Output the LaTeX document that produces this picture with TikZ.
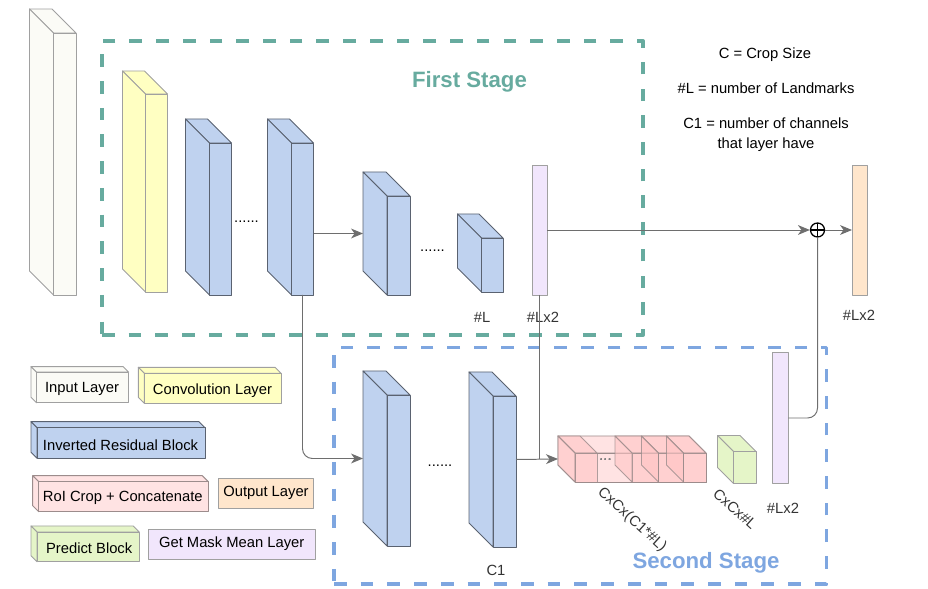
\documentclass[tikz,border=0pt]{standalone}
\usepackage{fontspec}
\setmainfont{Liberation Sans}
\usetikzlibrary{calc, arrows.meta, positioning, fit}

\definecolor{stageone}{HTML}{67AB9F}
\definecolor{stagetwo}{HTML}{7EA6E0}
\definecolor{edgegray}{HTML}{A0A0A0}
\definecolor{darkedge}{HTML}{5A6270}
\definecolor{conngray}{HTML}{6E6E6E}
\definecolor{labelgray}{HTML}{333333}
\definecolor{inputfill}{HTML}{FBFBF6}
\definecolor{convfill}{HTML}{FFFFC2}
\definecolor{irbfill}{HTML}{BFD2EF}
\definecolor{maskfill}{HTML}{F1E6FC}
\definecolor{outfill}{HTML}{FFE6CC}
\definecolor{cropfill}{HTML}{FFE3E3}
\definecolor{slicefill}{HTML}{FFC4C4}
\definecolor{cropedge}{HTML}{9C8C8C}
\definecolor{predfill}{HTML}{E5F5C8}

\newcommand{\cubelayer}[7]{%
  \path[#7] ({#2},{#3}) -- ({#2+#4-#6},{#3}) -- ({#2+#4},{#3+#6}) -- ({#2+#6},{#3+#6}) -- cycle;
  \path[#7] ({#2},{#3}) -- ({#2+#6},{#3+#6}) -- ({#2+#6},{#3+#5}) -- ({#2},{#3+#5-#6}) -- cycle;
  \path[#7] ({#2+#6},{#3+#6}) rectangle ({#2+#4},{#3+#5});
  \node[fit={({#2},{#3}) ({#2+#4},{#3+#5})}, inner sep=0pt, outer sep=0pt] (#1) {};
}

\begin{document}
\begin{tikzpicture}[
        x=0.025cm, y=-0.025cm, line join=round,
        font=\fontsize{10.5}{14.2}\selectfont,
        inputface/.style={draw=edgegray, fill=inputfill, line width=0.7pt},
        convface/.style={draw=edgegray, fill=convfill, line width=0.7pt},
        irbface/.style={draw=darkedge, fill=irbfill, line width=0.7pt},
        maskface/.style={draw=edgegray, fill=maskfill, line width=0.7pt},
        outface/.style={draw=edgegray, fill=outfill, line width=0.7pt},
        cropface/.style={draw=cropedge, fill=cropfill, line width=0.7pt},
        sliceface/.style={draw=cropedge, draw opacity=0.8, fill=slicefill, fill opacity=0.6, line width=0.7pt},
        predface/.style={draw=edgegray, fill=predfill, line width=0.7pt},
        stagebox/.style={line width=2.8pt, dash pattern=on 9pt off 10pt, inner sep=0pt},
        stage/.style={font=\fontsize{15.8}{19}\selectfont\bfseries},
        conn/.style={draw=conngray, line width=0.7pt},
        arrow/.style={conn, -{Stealth[length=8.5pt, width=7pt, inset=2.5pt]}},
        lbl/.style={text=labelgray, inner sep=1pt},
        bar/.style={inner sep=0pt, outer sep=0pt}
    ]
        \useasboundingbox (0,0) rectangle (928,589);

        \node[stagebox, draw=stageone, fit={(102,41) (643,335)}] (first) {};
        \node[stagebox, draw=stagetwo, fit={(334,347.5) (826.5,584)}] (second) {};
        \node[stage, text=stageone] (first-t) at (469.5,81.5) {First Stage};
        \node[stage, text=stagetwo] (second-t) at (706,563) {Second Stage};

        \cubelayer{inp}{29.5}{9}{46.5}{286}{24}{inputface}
        \cubelayer{conv}{122.5}{71}{45}{221}{23}{convface}
        \cubelayer{b1}{185.5}{119}{46}{176}{24}{irbface}
        \cubelayer{b2}{267.5}{119}{46}{176}{24}{irbface}
        \cubelayer{b3}{363}{172}{47}{123}{24}{irbface}
        \cubelayer{b4}{457.5}{214}{45.5}{78}{24}{irbface}
        \node[maskface, bar, fit={(532,165) (547,295)}] (p1) {};
        \node[outface, bar, fit={(852,165) (867,295)}] (out) {};

        \node[anchor=base] (dots1) at (246.5,223) {......};
        \node[anchor=base] (dots2) at (432.5,252) {......};
        \node[lbl] (b4-t) at (482,317) {\#L};
        \node[lbl] (p1-t) at (543,317) {\#Lx2};
        \node[lbl] (out-t) at (859,315) {\#Lx2};

        \node (note1) at (765,55) {C = Crop Size};
        \node (note2) at (766,88) {\#L = number of Landmarks};
        \node[align=center] (note3) at (766,135) {C1 = number of channels\\that layer have};

        \cubelayer{s1}{363}{371}{47}{175}{24}{irbface}
        \cubelayer{s2}{469}{372}{47}{175}{24}{irbface}
        \node[anchor=base] (dots3) at (440,466) {......};
        \node[lbl] (s2-t) at (496,570) {C1};

        \cubelayer{crop}{558}{436}{148}{46}{17}{cropface}
        \foreach \xs/\ws [count=\i] in {558/39, 615/43, 641.5/41.5, 666.5/39.5}
            \cubelayer{crop\i}{\xs}{436}{\ws}{46}{17}{sliceface}
        \node[anchor=base, text=gray, inner sep=0pt] (dots4) at (605.5,461) {...};
        \cubelayer{pred}{717.5}{435.5}{38.5}{48}{16}{predface}
        \node[maskface, bar, fit={(772.7,352.7) (788.3,483.3)}] (p2) {};
        \node[lbl, rotate=-42] (crop-t) at (632,520) {CxCx(C1*\#L)};
        \node[lbl, rotate=-42] (pred-t) at (735,509) {CxCx\#L};
        \node[lbl] (p2-t) at (783,508) {\#Lx2};

        \node[draw, circle, minimum size=0.35cm, inner sep=0pt, line width=0.9pt,
            path picture={\draw[line width=0.9pt] (path picture bounding box.north) -- (path picture bounding box.south)
            (path picture bounding box.west) -- (path picture bounding box.east);}] (plus) at (817.5,230) {};

        \draw[arrow] (b2.east |- b3.west) -- (b3.west);
        \draw[arrow, rounded corners=7pt] ($(b2.south)+(12,0)$) |- (s1.west);
        \draw[arrow] (s2.east) -- (crop.west);
        \draw[conn] (p1.south) -- (p1.south |- s2.east);
        \draw[arrow] (p1.east) -- (plus.west);
        \draw[arrow] (plus.east) -- (out.west);
        \draw[conn, rounded corners=7pt] (p2.east) -| (plus.south);

        \cubelayer{lin}{31}{366.7}{97.7}{36}{5.5}{inputface}
        \node (lin-t) at (82,389) {Input Layer};
        \cubelayer{lconv}{138.3}{367.3}{142.7}{36}{6}{convface}
        \node (lconv-t) at (212.5,390.5) {Convolution Layer};
        \cubelayer{lirb}{31}{421.7}{174}{36.6}{6}{irbface}
        \node (lirb-t) at (120.5,445) {Inverted Residual Block};
        \cubelayer{lcrop}{32.7}{475.7}{175.6}{36}{6}{cropface}
        \node (lcrop-t) at (122.8,498.3) {RoI Crop + Concatenate};
        \node[outface, minimum width=2.365cm, minimum height=0.75cm] (lout) at (266,493.3) {Output Layer};
        \cubelayer{lpred}{31}{526}{108.3}{35.7}{6}{predface}
        \node (lpred-t) at (89.2,548.3) {Predict Block};
        \node[maskface, minimum width=4.17cm, minimum height=0.75cm] (lmask) at (231.7,544) {Get Mask Mean Layer};
    \end{tikzpicture}
\end{document}
